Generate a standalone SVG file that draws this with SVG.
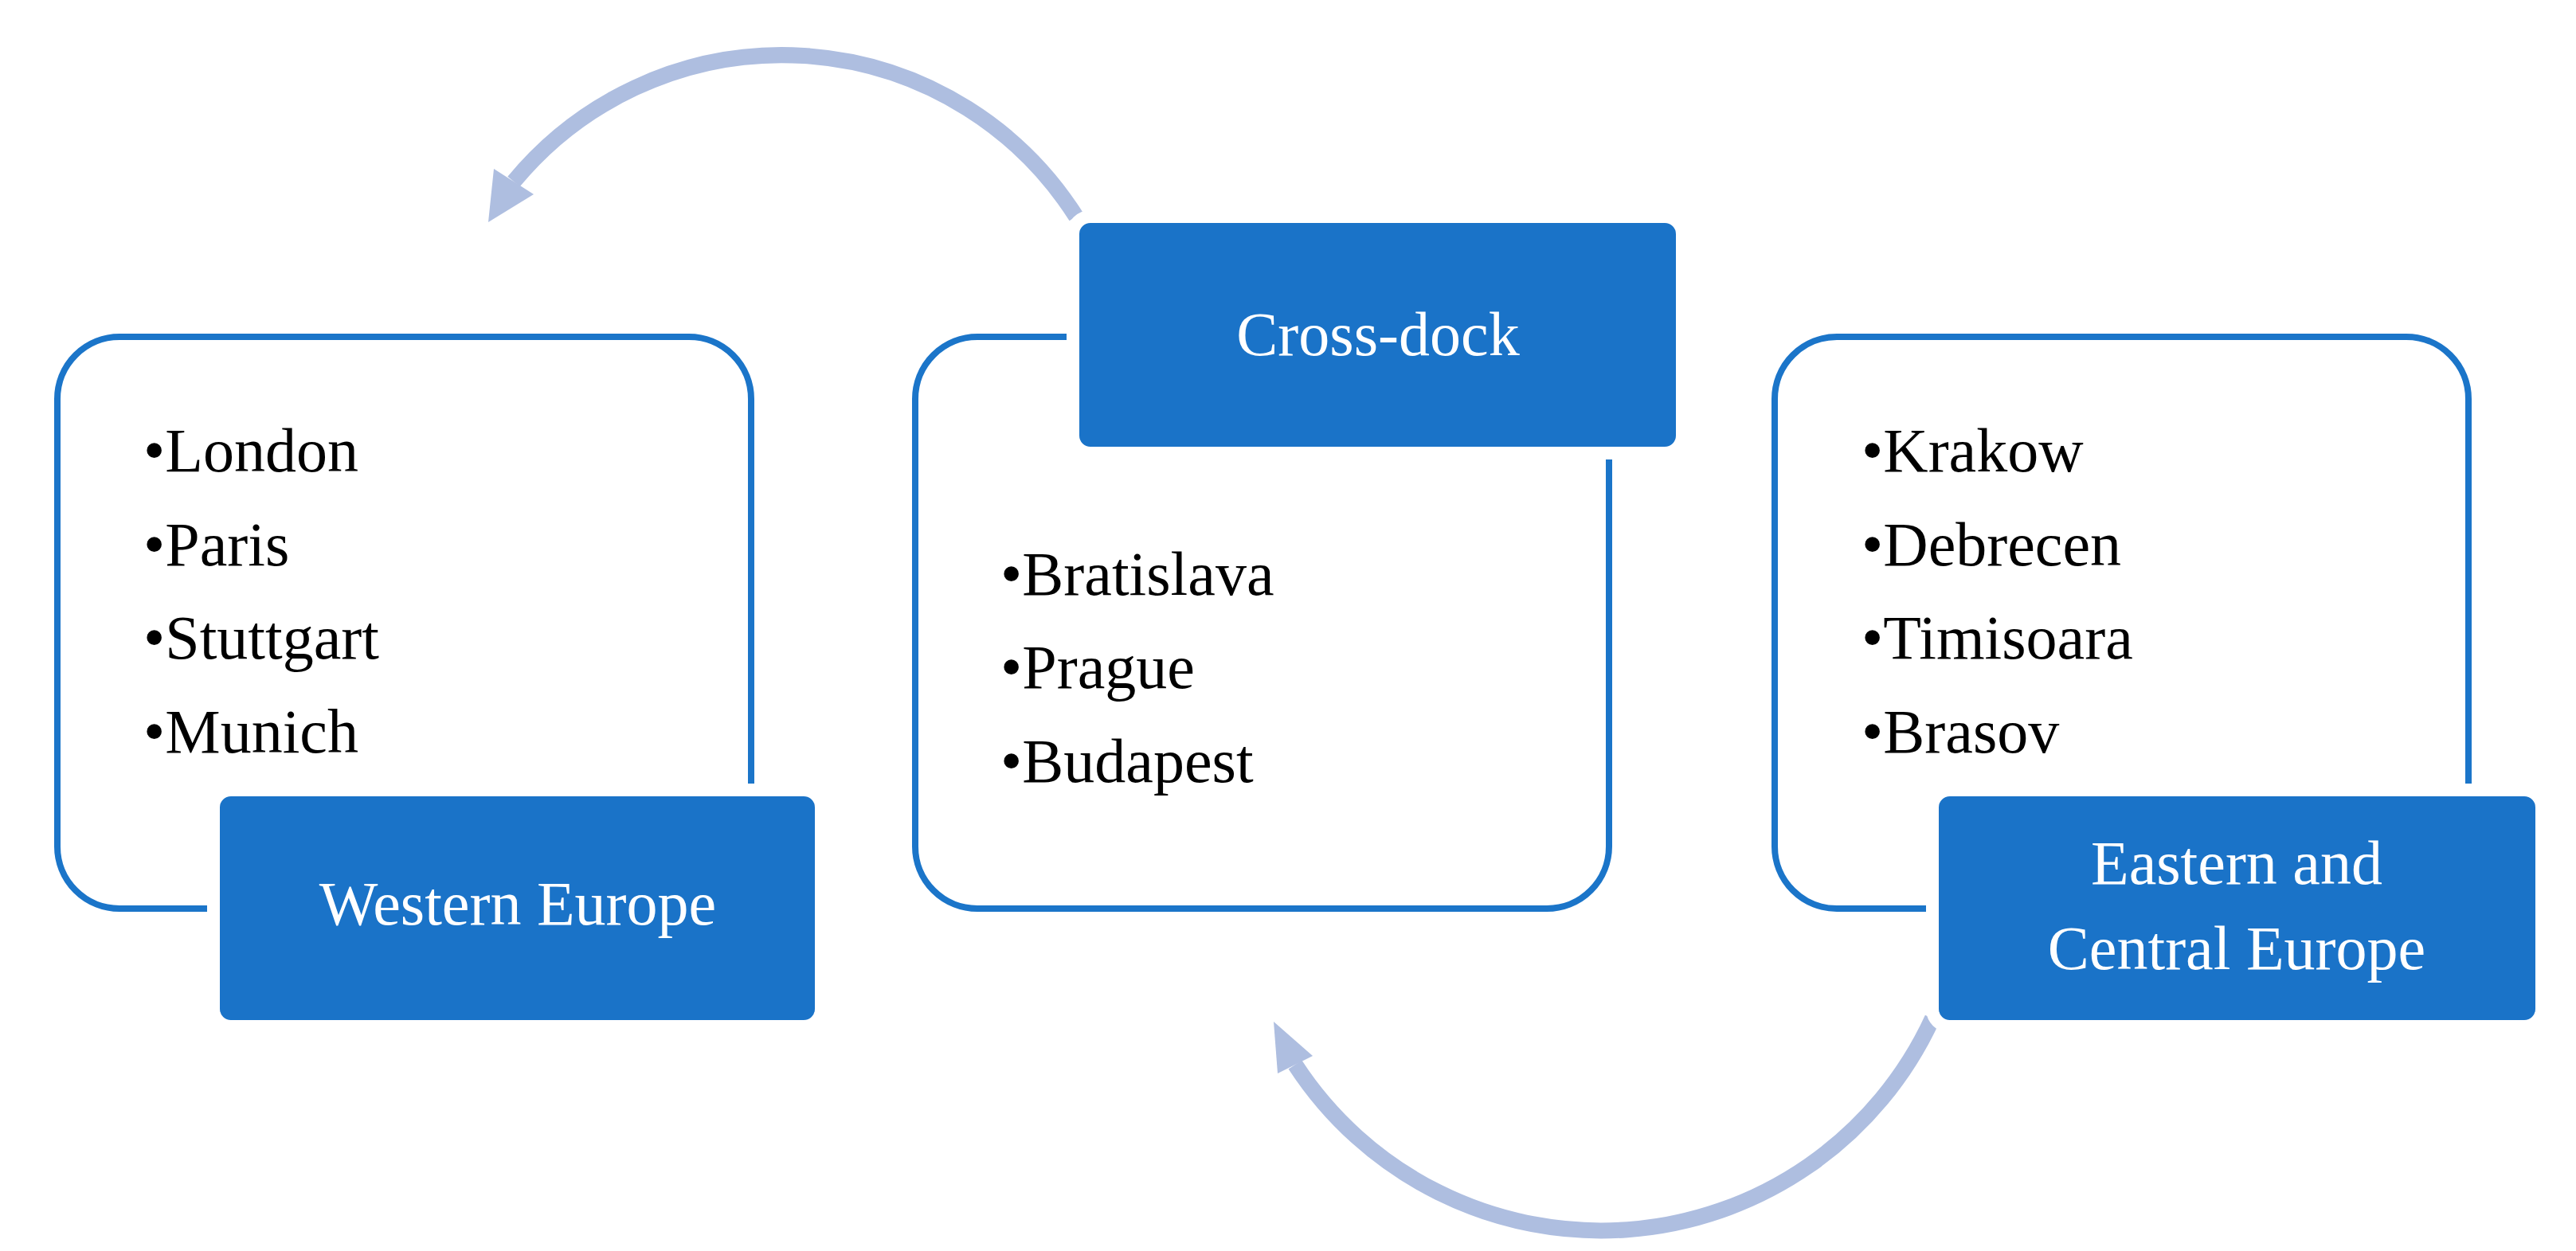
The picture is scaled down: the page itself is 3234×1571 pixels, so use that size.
<svg xmlns="http://www.w3.org/2000/svg" width="3234" height="1571" viewBox="0 0 3234 1571">
<style>
.box{fill:#fff;stroke:#1B75C9;stroke-width:8}
.lab{fill:#1A73C8;stroke:#fff;stroke-width:16}
.t{font-family:"Liberation Serif","DejaVu Serif",serif;font-size:78px;fill:#000}
.w{font-family:"Liberation Serif","DejaVu Serif",serif;font-size:78px;fill:#fff;text-anchor:middle}
.arc{fill:none;stroke:#AEBEE0;stroke-width:20}
</style>
<rect width="3234" height="1571" fill="#fff"/>
<g id="connectors">
<path class="arc" d="M1351,272 A437,437 0 0 0 645,228"/>
<polygon points="613,279 670,244 620,212" fill="#AEBEE0"/>
<path class="arc" d="M2426,1279 A458,458 0 0 1 1626,1337"/>
<polygon points="1599,1283 1648,1326 1604,1348" fill="#AEBEE0"/>
</g>
<g id="western">
<rect class="box" x="72" y="423" width="871" height="718" rx="78"/>
<text class="t" x="180" y="592">•London</text>
<text class="t" x="180" y="710">•Paris</text>
<text class="t" x="180" y="827">•Stuttgart</text>
<text class="t" x="180" y="945">•Munich</text>
<rect class="lab" x="268" y="992" width="763" height="297" rx="22"/>
<text class="w" x="650" y="1161">Western Europe</text>
</g>
<g id="crossdock">
<rect class="box" x="1149" y="423" width="871" height="718" rx="78"/>
<text class="t" x="1256" y="747">•Bratislava</text>
<text class="t" x="1256" y="864">•Prague</text>
<text class="t" x="1256" y="982">•Budapest</text>
<rect class="lab" x="1347" y="272" width="765" height="297" rx="22"/>
<text class="w" x="1730" y="446">Cross-dock</text>
</g>
<g id="eastern">
<rect class="box" x="2228" y="423" width="871" height="718" rx="78"/>
<text class="t" x="2337" y="592">•Krakow</text>
<text class="t" x="2337" y="710">•Debrecen</text>
<text class="t" x="2337" y="827">•Timisoara</text>
<text class="t" x="2337" y="945">•Brasov</text>
<rect class="lab" x="2426" y="992" width="765" height="297" rx="22"/>
<text class="w" x="2808" y="1110">Eastern and</text>
<text class="w" x="2808" y="1217">Central Europe</text>
</g>
</svg>
